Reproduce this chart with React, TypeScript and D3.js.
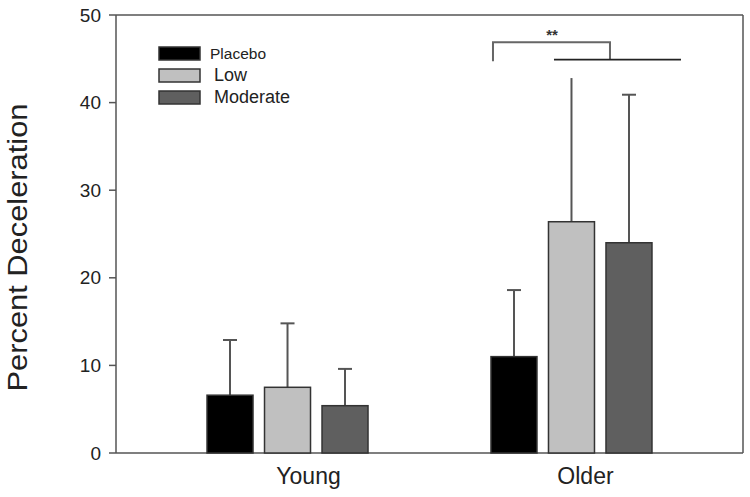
import React from "react";
import * as d3 from "d3";

const groups = ["Young", "Older"];
const series = ["Placebo", "Low", "Moderate"];
const colors = ["#000000", "#c0c0c0", "#5f5f5f"];
const means = [
  [6.6, 7.5, 5.4],
  [11.0, 26.4, 24.0],
];
const upperErr = [
  [12.9, 14.8, 9.6],
  [18.6, 42.8, 40.9],
];
const hasCap = [
  [true, true, true],
  [true, false, true],
];
const yTicks = [0, 10, 20, 30, 40, 50];

const W = 750;
const H = 497;
const L = 116, R = 743, T = 15, B = 453;

export default function App() {
  const y = d3.scaleLinear().domain([0, 50]).range([B, T]);
  const x0 = d3.scalePoint<string>().domain(groups).range([L, R]).padding(0.604);
  const x1 = d3.scaleBand<string>().domain(series).range([-80.5, 80.5]).paddingInner(0.2);
  const labelOffset = [21, 14];
  const axisColor = "#555";
  const font = "Liberation Sans, Arial, Helvetica, sans-serif";

  // significance bracket
  const gOld = "Older";
  const bx1 = x0(gOld)! - 78.5;
  const bx2 = x0(gOld)! + 38.5;
  const lineX1 = x0(gOld)! - 17.5;
  const lineX2 = x0(gOld)! + 109.5;
  const bTop = y(46.9);
  const bBot = y(44.9);

  return (
    <svg width={W} height={H} style={{ position: "absolute", left: 0, top: 0 }} fontFamily={font}>
      <rect x={0} y={0} width={W} height={H} fill="#fff" />
      {/* frame */}
      <line x1={L} x2={R} y1={T} y2={T} stroke={axisColor} strokeWidth={1.5} />
      <line x1={R} x2={R} y1={T} y2={B} stroke={axisColor} strokeWidth={1.5} />
      <line x1={L} x2={L} y1={T} y2={B} stroke={axisColor} strokeWidth={1.5} />
      <line x1={L} x2={R} y1={B} y2={B} stroke={axisColor} strokeWidth={1.5} />
      {yTicks.map((t) => (
        <g key={t}>
          <line x1={L - 7} x2={L} y1={y(t)} y2={y(t)} stroke={axisColor} strokeWidth={1.5} />
          <text x={101} y={y(t)} dy="0.35em" textAnchor="end" fontSize={19} fill="#222">
            {t}
          </text>
        </g>
      ))}
      {/* bars */}
      {groups.map((g, gi) =>
        series.map((s, si) => {
          const bx = x0(g)! + x1(s)!;
          const bw = x1.bandwidth();
          const cx = bx + bw / 2;
          return (
            <g key={g + s}>
              <line x1={cx} x2={cx} y1={y(means[gi][si])} y2={y(upperErr[gi][si])} stroke="#555" strokeWidth={2} />
              {hasCap[gi][si] && (
                <line x1={cx - 7} x2={cx + 7} y1={y(upperErr[gi][si])} y2={y(upperErr[gi][si])} stroke="#555" strokeWidth={2} />
              )}
              <rect x={bx} y={y(means[gi][si])} width={bw} height={B - y(means[gi][si])} fill={colors[si]} stroke="#333" strokeWidth={1.5} />
            </g>
          );
        })
      )}
      {/* x labels */}
      {groups.map((g, gi) => (
        <text key={g} x={x0(g)! + labelOffset[gi]} y={484} textAnchor="middle" fontSize={23} fill="#222">
          {g}
        </text>
      ))}
      {/* y label */}
      <text
        transform={`translate(27,247.5) rotate(-90)`}
        textAnchor="middle"
        fontSize={27}
        textLength={288}
        lengthAdjust="spacingAndGlyphs"
        fill="#222"
      >
        Percent Deceleration
      </text>
      {/* legend */}
      {series.map((s, si) => (
        <g key={s}>
          <rect x={159} y={47 + si * 22} width={41} height={13} fill={colors[si]} stroke="#333" strokeWidth={1.5} />
          <text x={si === 0 ? 210 : 214} y={si === 0 ? 58.5 : 59 + si * 22} fontSize={si === 0 ? 15.5 : 18} fill="#222">
            {s}
          </text>
        </g>
      ))}
      {/* significance */}
      <path d={`M${bx1},${bBot + 1.5} V${bTop} H${bx2} V${bBot}`} fill="none" stroke="#666" strokeWidth={2} />
      <line x1={lineX1} x2={lineX2} y1={bBot} y2={bBot} stroke="#222" strokeWidth={1.8} />
      <text x={552} y={39.5} textAnchor="middle" fontSize={15} fontWeight="bold" fill="#333">
        **
      </text>
    </svg>
  );
}
